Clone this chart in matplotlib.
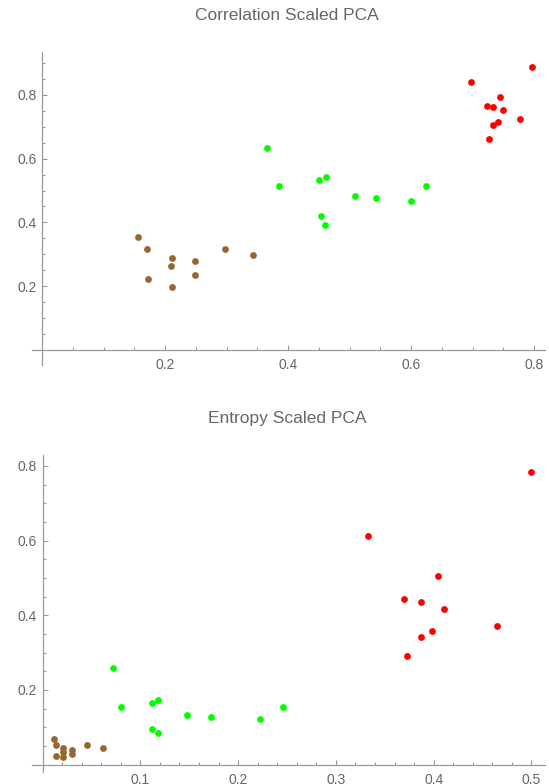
import matplotlib
matplotlib.use("Agg")
import matplotlib.pyplot as plt
from matplotlib.ticker import MultipleLocator, FixedLocator

plt.rcParams['font.family'] = ['Liberation Sans', 'DejaVu Sans']

# Correlation Scaled PCA
corr_brown_x = [0.156, 0.170, 0.173, 0.212, 0.210, 0.212, 0.249, 0.249, 0.298, 0.343]
corr_brown_y = [0.354, 0.316, 0.222, 0.288, 0.264, 0.199, 0.279, 0.236, 0.317, 0.298]
corr_green_x = [0.366, 0.386, 0.450, 0.462, 0.453, 0.460, 0.509, 0.543, 0.600, 0.624]
corr_green_y = [0.633, 0.515, 0.534, 0.543, 0.421, 0.392, 0.482, 0.477, 0.468, 0.515]
corr_red_x = [0.697, 0.796, 0.744, 0.724, 0.734, 0.749, 0.778, 0.741, 0.734, 0.727]
corr_red_y = [0.841, 0.888, 0.794, 0.766, 0.761, 0.751, 0.723, 0.714, 0.704, 0.661]

# Entropy Scaled PCA
ent_brown_x = [0.0117, 0.0133, 0.0133, 0.0212, 0.0212, 0.0212, 0.0304, 0.0304, 0.0458, 0.0614]
ent_brown_y = [0.068, 0.051, 0.024, 0.045, 0.034, 0.019, 0.040, 0.027, 0.051, 0.043]
ent_green_x = [0.072, 0.080, 0.112, 0.118, 0.112, 0.118, 0.148, 0.172, 0.222, 0.246]
ent_green_y = [0.258, 0.153, 0.165, 0.173, 0.096, 0.084, 0.133, 0.128, 0.121, 0.153]
ent_red_x = [0.4995, 0.333, 0.404, 0.370, 0.387, 0.411, 0.465, 0.398, 0.387, 0.373]
ent_red_y = [0.783, 0.613, 0.504, 0.444, 0.435, 0.416, 0.371, 0.358, 0.342, 0.291]

brown = "#996633"
green = "#00ff00"
red = "#ff0000"
axis_col = "#9a9a9a"
text_col = "#666666"

W, H = 549, 784
fig = plt.figure(figsize=(W / 100, H / 100), dpi=100)


def make_axes(px_left, px_right, px_top, px_bottom):
    return fig.add_axes([px_left / W, 1 - px_bottom / H,
                         (px_right - px_left) / W, (px_bottom - px_top) / H])


def style(ax, xmaj, xmin, ymaj, ymin, xticks, yticks):
    for s in ["top", "right"]:
        ax.spines[s].set_visible(False)
    ax.spines["left"].set_position(("data", 0))
    ax.spines["bottom"].set_position(("data", 0))
    for s in ["left", "bottom"]:
        ax.spines[s].set_color(axis_col)
        ax.spines[s].set_linewidth(0.9)
    ax.xaxis.set_major_locator(FixedLocator(xticks))
    ax.xaxis.set_minor_locator(MultipleLocator(xmin))
    ax.yaxis.set_major_locator(FixedLocator(yticks))
    ax.yaxis.set_minor_locator(MultipleLocator(ymin))
    ax.tick_params(which="both", direction="in", color=axis_col, width=0.8,
                   labelcolor=text_col, labelsize=10)
    ax.tick_params(which="major", length=3.8)
    ax.tick_params(which="minor", length=2.2)
    ax.tick_params(axis="x", pad=6)
    ax.tick_params(axis="y", pad=4)
    ax.set_xticklabels([f"{t:g}" for t in xticks])
    ax.set_yticklabels([f"{t:g}" for t in yticks])
    # hide minor ticks at the origin
    ax.xaxis.set_minor_locator(FixedLocator(
        [i * xmin for i in range(1, 200) if abs(i * xmin) < ax.get_xlim()[1] + 1e-9]))
    ax.yaxis.set_minor_locator(FixedLocator(
        [i * ymin for i in range(1, 200) if abs(i * ymin) < ax.get_ylim()[1] + 1e-9]))


ms = 24

ax1 = make_axes(32, 545, 52, 365)
ax1.scatter(corr_brown_x, corr_brown_y, s=ms, color=brown, linewidths=0, zorder=3)
ax1.scatter(corr_green_x, corr_green_y, s=ms, color=green, linewidths=0, zorder=3)
ax1.scatter(corr_red_x, corr_red_y, s=ms, color=red, linewidths=0, zorder=3)
ax1.set_xlim(-10 / 615, 503 / 615)
ax1.set_ylim(-15 / 319, 298 / 319)
style(ax1, 0.2, 0.05, 0.2, 0.05, [0.2, 0.4, 0.6, 0.8], [0.2, 0.4, 0.6, 0.8])
fig.text(287 / W, 1 - 16 / H, "Correlation Scaled PCA", ha="center", va="center",
         color=text_col, fontsize=12.5)

ax2 = make_axes(32, 545, 455, 772)
ax2.scatter(ent_brown_x, ent_brown_y, s=ms, color=brown, linewidths=0, zorder=3)
ax2.scatter(ent_green_x, ent_green_y, s=ms, color=green, linewidths=0, zorder=3)
ax2.scatter(ent_red_x, ent_red_y, s=ms, color=red, linewidths=0, zorder=3)
ax2.set_xlim(-10.5 / 977, 502 / 977)
ax2.set_ylim(-7.5 / 373.3, 309.5 / 373.3)
style(ax2, 0.1, 0.02, 0.2, 0.05, [0.1, 0.2, 0.3, 0.4, 0.5], [0.2, 0.4, 0.6, 0.8])
fig.text(287 / W, 1 - 418 / H, "Entropy Scaled PCA", ha="center", va="center",
         color=text_col, fontsize=12.5)

fig.savefig("out.png", dpi=100)
